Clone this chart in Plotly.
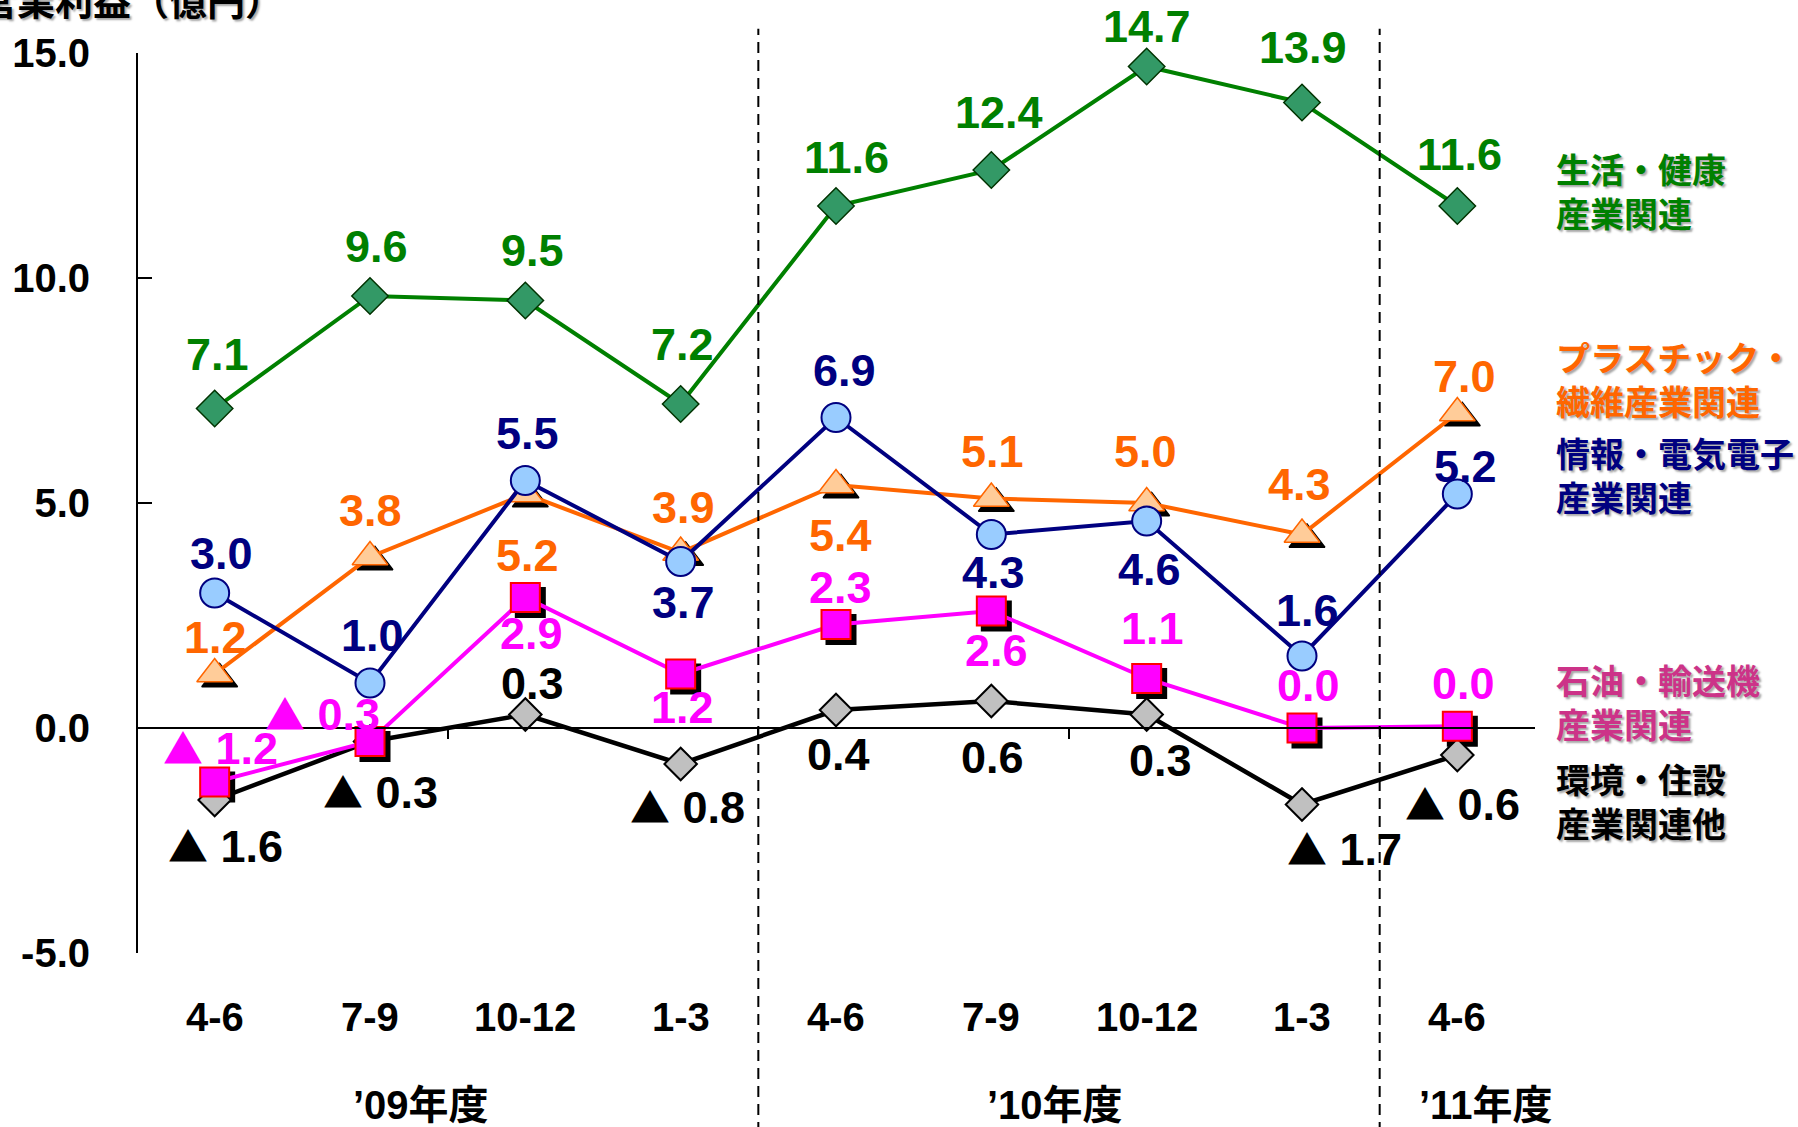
import plotly.graph_objects as go

# ---------------- data ----------------
quarters = ["4-6", "7-9", "10-12", "1-3", "4-6", "7-9", "10-12", "1-3", "4-6"]
fiscal_years = ["’09年度", "’10年度", "’11年度"]
quarters_per_year = [4, 4, 1]

life_health = [7.1, 9.6, 9.5, 7.2, 11.6, 12.4, 14.7, 13.9, 11.6]
plastics_fiber = [1.2, 3.8, 5.2, 3.9, 5.4, 5.1, 5.0, 4.3, 7.0]
info_electronics = [3.0, 1.0, 5.5, 3.7, 6.9, 4.3, 4.6, 1.6, 5.2]
oil_transport = [-1.2, -0.3, 2.9, 1.2, 2.3, 2.6, 1.1, 0.0, 0.04]
environment_housing = [-1.6, -0.3, 0.3, -0.8, 0.4, 0.6, 0.3, -1.7, -0.6]

y_ticks = [-5, 0, 5, 10, 15]
y_tick_text = [f"{v:.1f}" for v in y_ticks]
y_title = "営業利益（億円）"

# ---------------- geometry / style ----------------
W, H = 1798, 1127
ML, MR, MT, MB = 137, 263, 53, 174
PW, PH = W - ML - MR, H - MT - MB
XR = [-0.5, len(quarters) - 0.5]
YR = [-5, 15]
ppx = PW / (XR[1] - XR[0])
ppy = PH / (YR[1] - YR[0])
SH = 5  # shadow offset in px
dxs, dys = SH / ppx, SH / ppy

NUM_FONT = "Liberation Sans, Arial, sans-serif"
LBL_FONT = "Liberation Sans Narrow, Arial Narrow, Liberation Sans, sans-serif"
JP_FONT = "Noto Sans CJK JP, sans-serif"
MIX_FONT = "Liberation Sans, Noto Sans CJK JP, sans-serif"

x = list(range(len(quarters)))

series = [
    dict(name="環境・住設<br>産業関連他", values=environment_housing, line="#000000", lw=4.5,
         symbol="diamond", size=25, fill="#C0C0C0", edge="#000000", ew=2, shadow=False,
         label="#000000", legend="#000000", ly=0.170,
         offsets=[(11, -45), (10, -49), (7, 31), (7, -42), (2, -44), (1, -56), (14, -46), (42, -43), (5, -48)]),
    dict(name="石油・輸送機<br>産業関連", values=oil_transport, line="#FF00FF", lw=4,
         symbol="square", size=29, fill="#FF00FF", edge="#FF0000", ew=2, shadow=True,
         label="#FF00FF", legend="#CC3388", ly=0.280,
         offsets=[(6, 35), (-48, 29), (6, -36), (2, -33), (4, 37), (5, -39), (6, 50), (6, 43), (6, 43)]),
    dict(name="プラスチック・<br>繊維産業関連", values=plastics_fiber, line="#FF6600", lw=4,
         symbol="triangle-up", size=31, fill="#FFCC99", edge="#FF6600", ew=1.5, shadow=True,
         label="#FF6600", legend="#FF6600", ly=0.638,
         offsets=[(1, 37), (0, 47), (2, -61), (3, 45), (4, -50), (1, 47), (-1, 52), (-3, 50), (7, 37)]),
    dict(name="情報・電気電子<br>産業関連", values=info_electronics, line="#000080", lw=4,
         symbol="circle", size=29, fill="#99CCFF", edge="#000080", ew=2, shadow=False,
         label="#000080", legend="#000080", ly=0.532,
         offsets=[(7, 40), (2, 48), (2, 47), (3, -41), (8, 47), (2, -38), (3, -48), (5, 46), (8, 28)]),
    dict(name="生活・健康<br>産業関連", values=life_health, line="#008000", lw=4,
         symbol="diamond", size=28, fill="#339966", edge="#003300", ew=1.5, shadow=False,
         label="#008000", legend="#008000", ly=0.847,
         offsets=[(3, 54), (6, 50), (7, 50), (2, 60), (10, 49), (8, 58), (0, 40), (1, 55), (2, 52)]),
]

NEG_MARK = '<span style="font-family:Noto Sans CJK JP, sans-serif;font-size:40px">▲</span> '


def fmt(v):
    return (NEG_MARK + f"{abs(v):.1f}") if v < 0 else f"{v:.1f}"


fig = go.Figure()

# shadows (drawn first, on offset axes)
for s in series:
    if s["shadow"]:
        fig.add_trace(go.Scatter(
            x=x, y=s["values"], mode="markers", xaxis="x", yaxis="y",
            marker=dict(symbol=s["symbol"], size=s["size"], color="#000000",
                        line=dict(color="#000000", width=s["ew"])),
            hoverinfo="skip", showlegend=False, cliponaxis=False))

# main series
for s in series:
    fig.add_trace(go.Scatter(
        x=x, y=s["values"], mode="lines+markers", xaxis="x2", yaxis="y2",
        line=dict(color=s["line"], width=s["lw"]),
        marker=dict(symbol=s["symbol"], size=s["size"], color=s["fill"],
                    line=dict(color=s["edge"], width=s["ew"])),
        name=s["name"].replace("<br>", ""), showlegend=False, cliponaxis=False))

annotations = []
# data labels
for s in series:
    for xi, v, (ox, oy) in zip(x, s["values"], s["offsets"]):
        annotations.append(dict(
            x=xi, y=v, xref="x2", yref="y2", text=fmt(v), showarrow=False,
            xanchor="center", yanchor="middle", xshift=ox, yshift=oy,
            font=dict(family=LBL_FONT, size=45, color=s["label"], weight="bold")))

# series name labels at right
for s in series:
    annotations.append(dict(
        x=1.0134, y=s["ly"], xref="paper", yref="paper", text=s["name"], showarrow=False,
        xanchor="left", yanchor="middle", align="left",
        font=dict(family=JP_FONT, size=34, color=s["legend"], weight="bold",
                  shadow="2px 2px 2px #A8A8A8")))

# category labels
for xi, q in zip(x, quarters):
    annotations.append(dict(
        x=xi, y=-0.0714, xref="x2", yref="paper", text=q, showarrow=False,
        xanchor="center", yanchor="middle",
        font=dict(family=NUM_FONT, size=40, color="#000000", weight="bold")))

# fiscal year labels and separators
shapes = []
start = 0
year_shift = [-27, -14, 28]
for i, (fy, n) in enumerate(zip(fiscal_years, quarters_per_year)):
    center = start + (n - 1) / 2
    annotations.append(dict(
        x=center, y=-0.1685, xref="x2", yref="paper", text=fy, showarrow=False,
        xanchor="center", yanchor="middle", xshift=year_shift[i],
        font=dict(family=MIX_FONT, size=40, color="#000000", weight="bold")))
    start += n
    if i < len(fiscal_years) - 1:
        shapes.append(dict(
            type="line", xref="x2", yref="paper", x0=start - 0.5, x1=start - 0.5,
            y0=-0.2, y1=1.027, line=dict(color="#000000", width=2, dash="11px,7px"),
            layer="above"))

# y-axis title (partially cut at top)
annotations.append(dict(
    x=-0.1144, y=1.060, xref="paper", yref="paper", text=y_title, showarrow=False,
    xanchor="left", yanchor="middle",
    font=dict(family=JP_FONT, size=38, color="#000000", weight="bold",
              shadow="2px 2px 2px #A8A8A8")))

zero_pos = (0 - YR[0]) / (YR[1] - YR[0])

fig.update_layout(
    width=W, height=H,
    margin=dict(l=ML, r=MR, t=MT, b=MB, autoexpand=False),
    paper_bgcolor="#FFFFFF", plot_bgcolor="rgba(0,0,0,0)",
    showlegend=False,
    xaxis=dict(range=[XR[0] - dxs, XR[1] - dxs], visible=False, fixedrange=True),
    yaxis=dict(range=[YR[0] + dys, YR[1] + dys], visible=False, fixedrange=True),
    xaxis2=dict(range=XR, overlaying="x", anchor="free", position=zero_pos,
                showline=True, linecolor="#000000", linewidth=2,
                ticks="outside", tickvals=[1.5, 3.5, 5.5, 7.5], ticklen=10, tickwidth=2,
                tickcolor="#000000", showticklabels=False, showgrid=False, zeroline=False),
    yaxis2=dict(range=YR, overlaying="y", anchor="free", position=0,
                showline=True, linecolor="#000000", linewidth=2,
                ticks="inside", tickvals=y_ticks, ticktext=y_tick_text,
                ticklen=14, tickwidth=2, tickcolor="#000000", ticklabelstandoff=38,
                tickfont=dict(family=NUM_FONT, size=40, color="#000000", weight="bold"),
                showgrid=False, zeroline=False),
    annotations=annotations,
    shapes=shapes,
)

fig.write_html(
    "out.html",
    config={"displayModeBar": False},
    post_script="document.body.style.margin='0';document.body.style.padding='0';"
                "document.body.style.overflow='hidden';",
)
